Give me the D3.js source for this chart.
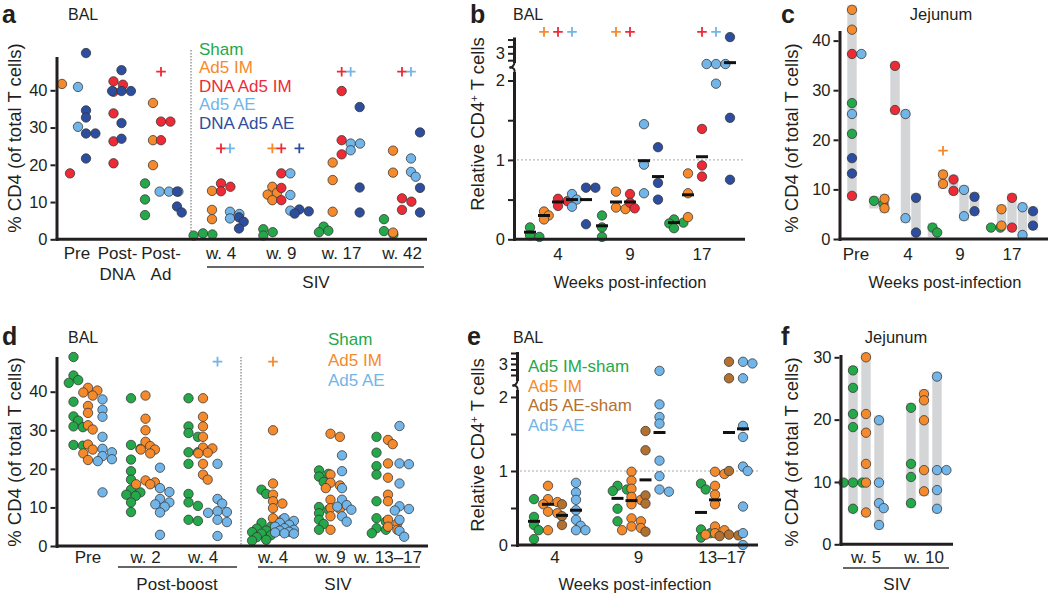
<!DOCTYPE html>
<html><head><meta charset="utf-8">
<script src="https://cdn.jsdelivr.net/npm/d3@7"></script>
<style>
body{margin:0;background:#fff}
text{font-family:'Liberation Sans',Arial,Helvetica,sans-serif;fill:#231f20}
</style>
</head><body><script>
// ---------------- DATA ----------------
// Panel a (BAL, % CD4)
const aGroups = ["Pre","Post-DNA","Post-Ad","w. 4","w. 9","w. 17","w. 42"];
const aSeries = ["Sham","Ad5 IM","DNA Ad5 IM","Ad5 AE","DNA Ad5 AE"];
const aSham  = [[], [], [15,10.7,6.5], [1.6,1.3,1.0], [2.7,1.9,1.0], [3.4,2.3,1.9], [5.4,2.2,1.3]];
const aAd5IM = [[41.7], [], [36.6,26.6,19.9], [13,7.9,5.4], [14.1,12.5,12,10.5], [20.6,15.9,7.4], [23.8,17.9,1.8]];
const aDnaIM = [[17.7], [42.4,41.5,39.6,33.8,26.3,20.4], [31.6,31.6,26.6], [15,14.1,12.9], [17.7,13.8,10.5], [39.8,26.6,22.8], [11,10.1,7.9]];
const aAd5AE = [[40.9,30.2], [], [12.8,12.8,12.8], [7.4,6.8,5.6], [17.7,11.9,7.7], [25.7,25.7,23.9], [21.7,18.1,16.8]];
const aDnaAE = [[50,34.6,32.7,28.4,28.4,21.7], [45.4,39.8,39.8,39.8,31.2,27], [12.8,8.8,7.2], [5.9,4.7,2.9], [8,7.5,6.9], [35.5,13.9,7.2], [28.7,13.8,7.2]];
const aTicks = [0,10,20,30,40];
const aPlus = [["Post-Ad","DNA Ad5 IM",45],["w. 4","DNA Ad5 IM",24.4],["w. 4","Ad5 AE",24.4],
  ["w. 9","Ad5 IM",24.4],["w. 9","DNA Ad5 IM",24.4],["w. 9","DNA Ad5 AE",24.4],
  ["w. 17","DNA Ad5 IM",45],["w. 17","Ad5 AE",45],["w. 42","DNA Ad5 IM",45],["w. 42","Ad5 AE",45]];

// Panel b (BAL, relative CD4+); values above 2.3 sit on the broken upper segment
const bWeeks = ["4","9","17"];
const bSham  = [[0.15,0.05,0.03],[0.3,0.15,0.03],[0.25,0.21,0.2,0.14]];
const bAd5IM = [[0.35,0.3,0.25],[0.6,0.4,0.38],[0.83,0.58,0.28]];
const bDnaIM = [[0.51,0.48,0.42],[0.57,0.46,0.39],[1.39,0.93,0.79]];
const bAd5AE = [[0.57,0.5,0.41],[1.45,0.94,0.58],[2.61,2.61,2.61,1.96]];
const bDnaAE = [[0.65,0.65,0.19],[1.16,0.71,0.5],[3.59,1.53,0.75]];
const bMeans = [[0.09,0.3,0.47,0.5,0.5],[0.17,0.47,0.47,0.99,0.79],[0.21,0.56,1.04,null,2.66]];
const bTicks = [0,0.5,1,1.5,2];
const bUpTicks = [2.75,3,3.25,3.5];
const bPlus = [["4","Ad5 IM",3.78],["4","DNA Ad5 IM",3.78],["4","Ad5 AE",3.78],["9","Ad5 IM",3.78],
  ["9","DNA Ad5 IM",3.78],["17","DNA Ad5 IM",3.78],["17","Ad5 AE",3.78]];

// Panel c (Jejunum)
const cGroups = ["Pre","4","9","17"];
const cSham  = [[27.4,21.2],[7.7,7.1],[2.3,1.3],[2.3,2.3]];
const cAd5IM = [[46.2,42.2],[8.1,6.2],[13.0,11.1],[6.0,2.7]];
const cDnaIM = [[37.3,8.7],[34.9,26.0],[12.0,9.7],[8.3,2.3]];
const cAd5AE = [[37.3,25.2],[25.2,4.2],[9.9,4.6],[6.4,0.8]];
const cDnaAE = [[16.3,13.2],[8.3,1.3],[8.5,5.6],[5.6,2.7]];
const cPlus = [["9","Ad5 IM",17.8]];

// Panel d (BAL, % CD4)
const dGroups = ["Pre","w. 2","w. 4","w. 4","w. 9","w. 13–17"];
const dSeries = ["Sham","Ad5 IM","Ad5 AE"];
const dSham = [
 [49,44.2,43,42.3,37.4,33.6,32.5,31,30.8,26.2,26],
 [38.3,26.2,25.2,22.4,19.4,17.2,14.6,13.9,13.3,13,11.3,8.8],
 [38.3,31,29.3,28.3,24.3,24.3,21.3,13.5,11.3,10.4,6.8,6.5],
 [14.6,13.5,6,5,4.5,4,3.6,3.2,2.8,2.3,1.6,1.4],
 [19.6,18.7,18,16.6,10.1,9.4,8.5,6.8,5.7,4.2],
 [28.3,24.2,20.7,18.5,11.6,7.2,6.3,4.6,4.2,3.3]];
const dAd5IM = [
 [41,40.3,39.8,39,36.3,34.5,31.3,30.2,26.3,25,24,22.3],
 [39,33,30,27,25.9,25,25,24,17,16.5,16,16],
 [38.3,33.5,31,28.3,25.5,25.3,24.2,24,21.3,18.5,17.2],
 [30,16.2,13.3,11.6,11,9.8,7.2,6.8],
 [29.1,28.3,18.5,16.4,15.7,15,12,9.8,9.6,7.7,4.2],
 [27.5,26.4,21.4,17.7,13.3,11.6,6.8,5.9,5,4.2]];
const dAd5AE = [
 [38,35.3,33.5,28.3,25.2,24.3,23.3,22.5,22,13.9],
 [20.3,15,14,12.2,11.3,10.8,10.2,8.7,2.9],
 [21.3,12.2,11,9,8.8,8.6,6.8,6.2,2.6],
 [7.2,6.5,6,5.5,5,4.6,4.2,4,3.7,3.5,3.3,3.2],
 [23.5,19.4,15,12,10.6,10.2,9.4,7.7,6.3],
 [31.1,21.4,21.2,16.2,10.3,9.6,9.2,6.8,3.9,2.4]];
const dPlus = [[2,"Ad5 AE",47.8],[3,"Ad5 IM",47.8]];

// Panel e (BAL, relative CD4+)
const eWeeks = ["4","9","13–17"];
const eSeries = ["Ad5 IM-sham","Ad5 IM","Ad5 AE-sham","Ad5 AE"];
const eImSham = [[0.62,0.38,0.27,0.2,0.08],[0.8,0.75,0.73,0.49,0.32],[0.83,0.75,0.21,0.16,0.1]];
const eIm     = [[0.8,0.62,0.58,0.55,0.45,0.43,0.2],[0.99,0.87,0.76,0.65,0.61,0.55,0.36,0.32,0.25,0.23,0.2],[0.99,0.96,0.8,0.68,0.55,0.25,0.2,0.16,0.14]];
const eAeSham = [[0.55,0.39,0.27],[1.54,1.28,0.67,0.56,0.18],[3.08,2.48,1.0,0.14,0.13,0.12]];
const eAe     = [[0.84,0.71,0.61,0.47,0.34,0.26,0.2,0.2],[2.75,1.9,1.73,1.64,1.14,0.93,0.75,0.72],[3.08,3.02,2.48,1.61,1.46,1.06,1.0,0.52,0.16,0.0]];
const eMeans  = [[0.32,0.55,0.4,0.47],[0.63,0.6,0.88,1.52],[0.44,0.61,1.52,1.57]];
const eUpTicks = [2.6,2.8,3,3.2,3.4];

// Panel f (Jejunum)
const fGroups = ["w. 5","w. 10"];
const fSham  = [[27.9,25.1,20.9,18.8,9.9,9.9,9.9,5.7],[21.9,12.9,10.8,6.6]];
const fAd5IM = [[30,20.9,17.9,12.9,9.9,5.1],[24.1,23.1,19.9,11.9,8.5]];
const fAd5AE = [[19.9,9.9,6.6,5.8,3.1],[26.9,11.9,11.9,8.7,5.7]];
const fTicks = [0,10,20,30];

// ---------------- STYLE ----------------
const COL = {sham:"#25a84a", im:"#f58a2c", dnaim:"#ed2b36", ae:"#72b5e8", dnaae:"#2d4e9e", aesham:"#b3712f"};
const FONT = "'Liberation Sans',Arial,Helvetica,sans-serif";
const INK = "#231f20";
const R = 4.7;
const GRAYBAR = "#d4d5d7";
const TITLE = 18.5;

const svg = d3.select("body").append("svg").attr("width",1050).attr("height",596);

// ---------------- HELPERS ----------------
function txt(g,x,y,s,o={}){
  const t=g.append("text").attr("x",x).attr("y",y).text(s).attr("font-size",o.size||16)
    .attr("text-anchor",o.anchor||"start");
  if(o.bold) t.attr("font-weight","bold");
  if(o.fill) t.style("fill",o.fill);
  return t;
}
function yTitle(g,x,y,parts,size=TITLE){
  const t=g.append("text").attr("transform",`translate(${x},${y}) rotate(-90)`)
    .attr("text-anchor","middle").attr("dy","0.35em").attr("font-size",size);
  parts.forEach(p=>{const s=t.append("tspan").text(p.t); if(p.sup) s.attr("baseline-shift","super").attr("font-size",size*0.62);});
}
function yAxis(g,scale,ticks,x,fmt){
  const ax=d3.axisLeft(scale).tickValues(ticks).tickSizeInner(5).tickSizeOuter(0).tickPadding(3)
    .tickFormat(fmt||d3.format("d"));
  const ag=g.append("g").attr("transform",`translate(${x},0)`).call(ax);
  ag.select(".domain").remove();
  ag.selectAll(".tick line").attr("stroke",INK).attr("stroke-width",2);
  ag.selectAll(".tick text").attr("font-size",16.5).attr("font-family",FONT).style("fill",INK);
  return ag;
}
function vline(g,x,y1,y2,w=3){g.append("line").attr("x1",x).attr("x2",x).attr("y1",y1).attr("y2",y2).attr("stroke",INK).attr("stroke-width",w);}
function hline(g,x1,x2,y,w=3,c=INK){g.append("line").attr("x1",x1).attr("x2",x2).attr("y1",y).attr("y2",y).attr("stroke",c).attr("stroke-width",w);}
function dashV(g,x,y1,y2){g.append("line").attr("x1",x).attr("x2",x).attr("y1",y1).attr("y2",y2).attr("stroke","#a9a9a9").attr("stroke-width",1.8).attr("stroke-dasharray","1.5,1.5");}
function dashH(g,x1,x2,y){g.append("line").attr("x1",x1).attr("x2",x2).attr("y1",y).attr("y2",y).attr("stroke","#aaa").attr("stroke-width",1).attr("stroke-dasharray","2,2");}
function plus(g,x,y,c){const s=4.8;g.append("path").attr("d",`M${x-s},${y}H${x+s}M${x},${y-s}V${y+s}`).attr("stroke",c).attr("stroke-width",1.8).attr("fill","none");}
function meanBar(g,x,y){g.append("line").attr("x1",x-6).attr("x2",x+6).attr("y1",y).attr("y2",y).attr("stroke","#111").attr("stroke-width",3);}
function breakMark(g,x,y,dir){g.append("path").attr("d",`M${x},${y}q${dir*-1},${dir*4} ${-5},${dir*5}`).attr("stroke",INK).attr("stroke-width",2).attr("fill","none");}

// beeswarm-like dodge of overlapping points in one column
function dodge(items,x0,yf){
  const pts=items.map(d=>Object.assign({},d,{y:yf(d.v)})).sort((a,b)=>a.y-b.y);
  const placed=[]; const step=R*1.0, minD=R*1.3; const cands=[0,1,-1,2,-2];
  pts.forEach(p=>{
    let best=x0,bestD=-1;
    for(const c of cands){
      const x=x0+c*step;
      const d=placed.length?d3.min(placed,q=>Math.hypot(q.x-x,q.y-p.y)):Infinity;
      if(d>=minD){best=x;break;}
      if(d>bestD){bestD=d;best=x;}
    }
    p.x=best; placed.push(p);
  });
  return pts;
}
function dots(g,pts){
  g.selectAll(null).data(pts).join("circle").attr("cx",d=>d.x).attr("cy",d=>d.y).attr("r",R)
   .attr("fill",d=>d.c).attr("stroke","#333").attr("stroke-width",0.75);
}
function grayBar(g,x,vals,yf){
  const lo=d3.min(vals),hi=d3.max(vals); if(hi===lo) return;
  g.append("rect").attr("x",x-4.7).attr("width",9.4).attr("y",yf(hi)-R).attr("height",yf(lo)-yf(hi)+2*R).attr("fill",GRAYBAR);
}

// ---------------- PANEL A ----------------
(function(){
  const g=svg.append("g");
  const data=[aSham,aAd5IM,aDnaIM,aAd5AE,aDnaAE];
  const cols=[COL.sham,COL.im,COL.dnaim,COL.ae,COL.dnaae];
  const y=d3.scaleLinear().domain([0,40]).range([239.3,90.3]);
  const xPre=d3.scalePoint().domain([0,1,2]).range([74,161]);
  const xSiv=d3.scalePoint().domain([3,4,5,6]).range([221,402]);
  const colX=(gi,si)=>{
    const present=data.map((s,k)=>k).filter(k=>data[k][gi].length>0||k===si);
    const idx=present.indexOf(si), sp=gi<3?8:9, c=gi<3?xPre(gi):xSiv(gi);
    return c+(idx-(present.length-1)/2)*sp;
  };
  dashV(g,191,50,239);
  aGroups.forEach((gr,gi)=>data.forEach((s,si)=>{
    if(!s[gi].length) return;
    dots(g,dodge(s[gi].map(v=>({v,c:cols[si]})),colX(gi,si),y));
  }));
  aPlus.forEach(p=>{const gi=aGroups.indexOf(p[0]),si=aSeries.indexOf(p[1]);plus(g,colX(gi,si),y(p[2]),cols[si]);});
  vline(g,57,241,57); hline(g,55.5,427,239.3);
  yAxis(g,y,aTicks,55.5);
  const lab=[["Pre"],["Post-","DNA"],["Post-","Ad"],["w. 4"],["w. 9"],["w. 17"],["w. 42"]];
  lab.forEach((ls,gi)=>{const cx=gi<3?xPre(gi)+(gi===0?3:0):xSiv(gi); ls.forEach((l,k)=>txt(g,cx,259+k*21,l,{size:17,anchor:"middle"}));});
  hline(g,207,424,267,1.5,"#333");
  txt(g,316,288,"SIV",{size:17,anchor:"middle"});
  aSeries.forEach((s,i)=>txt(g,199,55+i*18.4,s,{size:17,fill:cols[i]}));
  txt(g,2,23,"a",{size:25,bold:true});
  txt(g,68,20,"BAL",{size:16});
  yTitle(g,15,138,[{t:"% CD4 (of total T cells)"}]);
})();

// ---------------- PANEL B ----------------
(function(){
  const g=svg.append("g");
  const data=[bSham,bAd5IM,bDnaIM,bAd5AE,bDnaAE];
  const cols=[COL.sham,COL.im,COL.dnaim,COL.ae,COL.dnaae];
  const yl=d3.scaleLinear().domain([0,2]).range([239.3,80.5]);
  const yu=d3.scaleLinear().domain([3,4]).range([53.3,25.8]);
  const y=v=>v>2.3?yu(v):yl(v);
  const x=d3.scalePoint().domain(bWeeks).range([558,702]);
  const colX=(w,si)=>x(w)+(si-2)*14;
  dashH(g,513,745,yl(1));
  bWeeks.forEach((w,wi)=>data.forEach((s,si)=>dots(g,dodge(s[wi].map(v=>({v,c:cols[si]})),colX(w,si),y))));
  bWeeks.forEach((w,wi)=>bMeans[wi].forEach((m,si)=>{if(m!=null) meanBar(g,colX(w,si),y(m));}));
  bPlus.forEach(p=>{const si=aSeries.indexOf(p[1]);plus(g,colX(p[0],si),y(p[2]),cols[si]);});
  vline(g,514.5,241,72); vline(g,514.5,63,37.5);
  breakMark(g,514.5,63,1); breakMark(g,514.5,72,-1);
  hline(g,513,745,239.3);
  yAxis(g,yl,bTicks,513,d=>d%1===0?d3.format("d")(d):"");
  yAxis(g,yu,bUpTicks,513,d=>d===3?"3":"");
  bWeeks.forEach(w=>txt(g,x(w),260,w,{size:17,anchor:"middle"}));
  txt(g,630,288,"Weeks post-infection",{size:16.5,anchor:"middle"});
  txt(g,470,23,"b",{size:25,bold:true});
  txt(g,513,20,"BAL",{size:16});
  yTitle(g,478,124,[{t:"Relative CD4"},{t:"+",sup:true},{t:" T cells"}]);
})();

// ---------------- PANEL C ----------------
(function(){
  const g=svg.append("g");
  const data=[cSham,cAd5IM,cDnaIM,cAd5AE,cDnaAE];
  const cols=[COL.sham,COL.im,COL.dnaim,COL.ae,COL.dnaae];
  const y=d3.scaleLinear().domain([0,40]).range([239,40.6]);
  const xl=d3.scalePoint().domain(cGroups).range([856,1012]);
  const xc=d3.scalePoint().domain(cGroups.slice(1)).range([895,1012]);
  const colX=(gr,si)=>gr==="Pre"?852:xc(gr)+(si-2)*10.5;
  const preItems=[]; data.forEach((s,si)=>s[0].forEach(v=>preItems.push({v,c:cols[si]})));
  grayBar(g,852,preItems.map(d=>d.v),y);
  cGroups.slice(1).forEach((gr,k)=>data.forEach((s,si)=>grayBar(g,colX(gr,si),s[k+1],y)));
  dots(g,dodge(preItems,852,y));
  cGroups.slice(1).forEach((gr,k)=>data.forEach((s,si)=>dots(g,dodge(s[k+1].map(v=>({v,c:cols[si]})),colX(gr,si),y))));
  cPlus.forEach(p=>{const si=aSeries.indexOf(p[1]);plus(g,colX(p[0],si),y(p[2]),cols[si]);});
  vline(g,840,241,31); hline(g,838.5,1048,239);
  yAxis(g,y,aTicks,838.5);
  cGroups.forEach(gr=>txt(g,xl(gr),260,gr,{size:17,anchor:"middle"}));
  txt(g,945,288,"Weeks post-infection",{size:16.5,anchor:"middle"});
  txt(g,781,23,"c",{size:25,bold:true});
  txt(g,941,20,"Jejunum",{size:16.5,anchor:"middle"});
  yTitle(g,792,138,[{t:"% CD4 (of total T cells)"}]);
})();

// ---------------- PANEL D ----------------
(function(){
  const g=svg.append("g");
  const data=[dSham,dAd5IM,dAd5AE];
  const cols=[COL.sham,COL.im,COL.ae];
  const y=d3.scaleLinear().domain([0,40]).range([546,391.7]);
  const xB=d3.scalePoint().domain([0,1,2]).range([88,203]);
  const xS=d3.scalePoint().domain([3,4,5]).range([273,388]);
  const gx=gi=>gi<3?xB(gi):xS(gi);
  const colX=(gi,si)=>gx(gi)+(si-1)*(gi<3?14.5:11.5);
  dashV(g,241,357,546);
  dGroups.forEach((gr,gi)=>data.forEach((s,si)=>dots(g,dodge(s[gi].map(v=>({v,c:cols[si]})),colX(gi,si),y))));
  dPlus.forEach(p=>{const si=dSeries.indexOf(p[1]);plus(g,colX(p[0],si),y(p[2]),cols[si]);});
  vline(g,57,548,357); hline(g,55.5,428,546);
  yAxis(g,y,aTicks,55.5);
  dGroups.forEach((gr,gi)=>txt(g,gx(gi),563,gr,{size:17,anchor:"middle"}));
  hline(g,118,237,567,1.5,"#333"); hline(g,258,420,567,1.5,"#333");
  txt(g,177,590,"Post-boost",{size:17,anchor:"middle"});
  txt(g,338,590,"SIV",{size:17,anchor:"middle"});
  dSeries.forEach((s,i)=>txt(g,328,345+i*20.5,s,{size:17,fill:cols[i]}));
  txt(g,2,345,"d",{size:25,bold:true});
  txt(g,68,343,"BAL",{size:16});
  yTitle(g,15,452,[{t:"% CD4 (of total T cells)"}]);
})();

// ---------------- PANEL E ----------------
(function(){
  const g=svg.append("g");
  const data=[eImSham,eIm,eAeSham,eAe];
  const cols=[COL.sham,COL.im,COL.aesham,COL.ae];
  const yl=d3.scaleLinear().domain([0,2]).range([545,397]);
  const yu=d3.scaleLinear().domain([3,4]).range([364,336.5]);
  const y=v=>v>2.3?yu(v):yl(v);
  const x=d3.scalePoint().domain(eWeeks).range([555,722]);
  const colX=(w,si)=>x(w)+(si-1.5)*14;
  dashH(g,516,760,yl(1));
  eWeeks.forEach((w,wi)=>data.forEach((s,si)=>dots(g,dodge(s[wi].map(v=>({v,c:cols[si]})),colX(w,si),y))));
  eWeeks.forEach((w,wi)=>eMeans[wi].forEach((m,si)=>{if(m!=null) meanBar(g,colX(w,si),y(m));}));
  vline(g,517.5,547,390); vline(g,517.5,381,352);
  breakMark(g,517.5,381,1); breakMark(g,517.5,390,-1);
  hline(g,516,758,545);
  yAxis(g,yl,bTicks,516,d=>d%1===0?d3.format("d")(d):"");
  yAxis(g,yu,eUpTicks,516,d=>d===3?"3":"");
  eWeeks.forEach(w=>txt(g,x(w),563,w,{size:17,anchor:"middle"}));
  txt(g,635,590,"Weeks post-infection",{size:16.5,anchor:"middle"});
  eSeries.forEach((s,i)=>txt(g,528,372+i*19.6,s,{size:17,fill:cols[i]}));
  txt(g,467,345,"e",{size:25,bold:true});
  txt(g,513,343,"BAL",{size:16});
  yTitle(g,478,445,[{t:"Relative CD4"},{t:"+",sup:true},{t:" T cells"}]);
})();

// ---------------- PANEL F ----------------
(function(){
  const g=svg.append("g");
  const data=[fSham,fAd5IM,fAd5AE];
  const cols=[COL.sham,COL.im,COL.ae];
  const y=d3.scaleLinear().domain([0,30]).range([544.3,357.3]);
  const x=d3.scalePoint().domain(fGroups).range([866,924]);
  const colX=(gr,si)=>x(gr)+(si-1)*13;
  fGroups.forEach((gr,gi)=>data.forEach((s,si)=>grayBar(g,colX(gr,si),s[gi],y)));
  fGroups.forEach((gr,gi)=>data.forEach((s,si)=>dots(g,dodge(s[gi].map(v=>({v,c:cols[si]})),colX(gr,si),y))));
  vline(g,841,546,355); hline(g,839.5,953,544.3);
  yAxis(g,y,fTicks,839.5);
  fGroups.forEach(gr=>txt(g,x(gr),563,gr,{size:17,anchor:"middle"}));
  hline(g,843,949,568,1.5,"#333");
  txt(g,897,590,"SIV",{size:17,anchor:"middle"});
  txt(g,781,345,"f",{size:25,bold:true});
  txt(g,896,343,"Jejunum",{size:16.5,anchor:"middle"});
  yTitle(g,792,452,[{t:"% CD4 (of total T cells)"}]);
})();
</script></body></html>
